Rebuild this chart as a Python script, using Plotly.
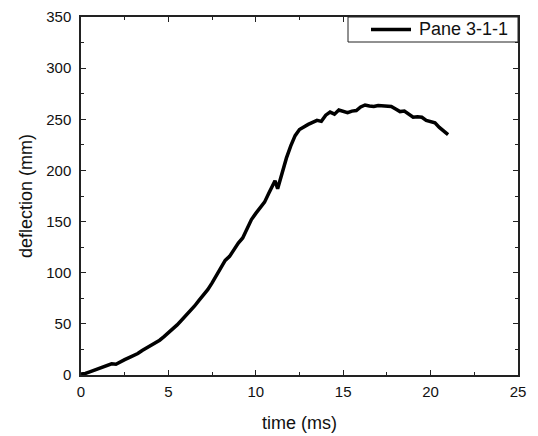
import plotly.graph_objects as go

# Deflection history of the pane centre
time_ms = [0.0, 0.25, 0.5, 0.75, 1.0, 1.25, 1.5, 1.75, 2.0, 2.25, 2.5, 2.75,
           3.0, 3.25, 3.5, 3.75, 4.0, 4.25, 4.5, 4.75, 5.0, 5.25, 5.5, 5.75,
           6.0, 6.25, 6.5, 6.75, 7.0, 7.25, 7.5, 7.75, 8.0, 8.25, 8.5, 8.75,
           9.0, 9.25, 9.5, 9.75, 10.0, 10.25, 10.5, 10.75, 11.0, 11.1, 11.25,
           11.5, 11.75, 12.0, 12.25, 12.5, 12.75, 13.0, 13.25, 13.5, 13.75,
           14.0, 14.25, 14.5, 14.75, 15.0, 15.25, 15.5, 15.75, 16.0, 16.25,
           16.5, 16.75, 17.0, 17.25, 17.5, 17.75, 18.0, 18.25, 18.5, 18.75,
           19.0, 19.25, 19.5, 19.75, 20.0, 20.25, 20.5, 20.75, 21.0]
deflection_mm = [1.0, 1.5, 3.0, 4.5, 6.0, 7.5, 9.0, 11.0, 10.5, 13.0, 15.0, 17.0,
                 19.0, 21.0, 24.0, 26.5, 29.0, 31.5, 34.0, 37.5, 41.0, 45.0, 49.0, 53.5,
                 58.0, 62.5, 67.5, 73.0, 78.0, 83.5, 90.0, 97.0, 104.0, 112.0, 116.0, 123.0,
                 129.0, 134.0, 144.0, 152.0, 158.0, 163.0, 169.0, 178.0, 186.0, 190.0, 182.0,
                 198.0, 212.0, 224.0, 234.0, 240.0, 243.0, 245.0, 247.0, 249.0, 248.0,
                 254.0, 257.0, 255.0, 259.0, 258.0, 256.5, 258.0, 258.5, 262.0, 264.0,
                 263.0, 262.5, 263.5, 263.0, 263.0, 262.5, 260.0, 257.5, 258.0, 255.0,
                 252.0, 252.5, 252.0, 249.0, 247.5, 246.5, 242.0, 238.0, 235.0]

series_name = "Pane 3-1-1"
x_title = "time (ms)"
y_title = "deflection (mm)"

font_family = "Liberation Sans, Arial, sans-serif"
ink = "#111111"
frame = "#222222"

fig = go.Figure()
fig.add_trace(go.Scatter(
    x=time_ms, y=deflection_mm, mode="lines", name=series_name,
    line=dict(color="black", width=3.5), showlegend=False,
))

axis_common = dict(
    showline=True, linecolor=frame, linewidth=1.5, mirror="allticks",
    ticks="inside", ticklen=5, tickwidth=1.2, tickcolor=frame,
    showgrid=False, zeroline=False, automargin=False,
    tickfont=dict(family=font_family, size=15, color=ink),
    title_font=dict(family=font_family, size=18, color=ink),
)

fig.update_xaxes(
    range=[0, 25], dtick=5, title_text=x_title, title_standoff=18,
    ticklabelstandoff=2,
    minor=dict(ticks="inside", dtick=2.5, ticklen=3, tickcolor=frame, tickwidth=1.2),
    **axis_common,
)
fig.update_yaxes(
    range=[0, 350], dtick=50, title_text=y_title, title_standoff=9,
    ticklabelstandoff=5,
    minor=dict(ticks="inside", dtick=25, ticklen=3, tickcolor=frame, tickwidth=1.2),
    **axis_common,
)

# Boxed legend in the top-right corner of the plot area
plot_left, plot_right, plot_top, plot_bottom = 81, 518, 17, 375
pw = plot_right - plot_left
ph = plot_bottom - plot_top

def px_x(p):
    return (p - plot_left) / pw

def px_y(p):
    return 1 - (p - plot_top) / ph

fig.add_shape(type="rect", xref="paper", yref="paper",
              x0=px_x(348), x1=1, y0=px_y(42), y1=1,
              line=dict(color=frame, width=1), fillcolor="white", layer="above")
fig.add_shape(type="line", xref="paper", yref="paper",
              x0=px_x(371), x1=px_x(411), y0=px_y(29.5), y1=px_y(29.5),
              line=dict(color="black", width=3.5), layer="above")
fig.add_annotation(text=series_name, xref="paper", yref="paper",
                   x=px_x(417), y=px_y(29.5), xanchor="left", yanchor="middle",
                   showarrow=False,
                   font=dict(family=font_family, size=18, color=ink))

fig.update_layout(
    width=538, height=436,
    margin=dict(l=plot_left, r=538 - plot_right, t=plot_top, b=436 - plot_bottom),
    paper_bgcolor="white", plot_bgcolor="white",
    showlegend=False,
)

fig.write_html("out.html")
